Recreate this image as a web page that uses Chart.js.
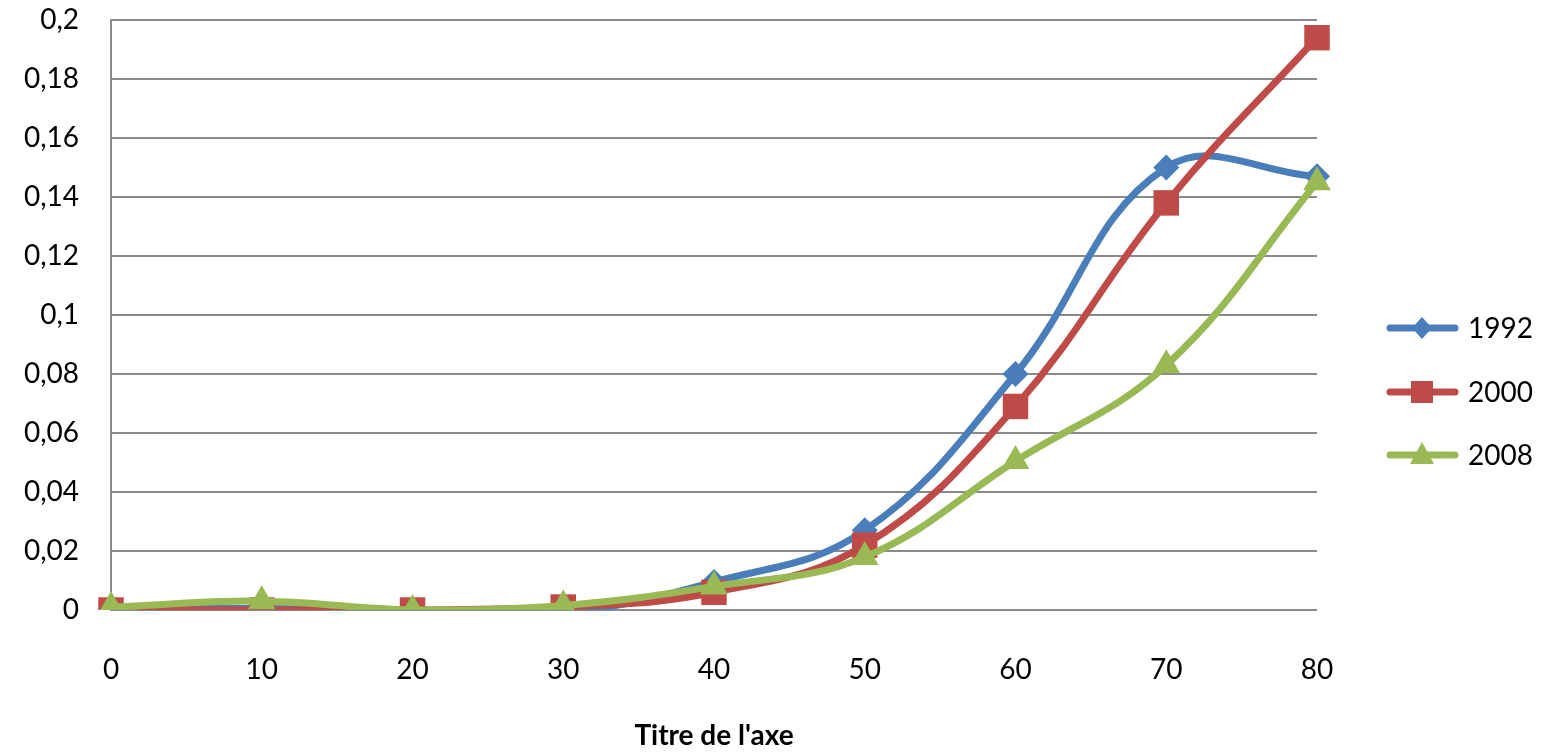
<!DOCTYPE html>
<html>
<head>
<meta charset="utf-8">
<script src="https://cdn.jsdelivr.net/npm/chart.js@4.4.1/dist/chart.umd.min.js"></script>
<style>
  html, body { margin: 0; padding: 0; background: #fff; }
  #wrap { width: 1552px; height: 753px; }
</style>
</head>
<body>
<div id="wrap"><canvas id="canvas"></canvas></div>
<script>
// x categories and series
var ages = ['0', '10', '20', '30', '40', '50', '60', '70', '80'];
var s1992 = [0.0005, 0.0005, 0, -0.0008, 0.0095, 0.027, 0.080, 0.150, 0.147];
var s2000 = [0, 0, 0, 0.001, 0.006, 0.022, 0.069, 0.138, 0.194];
var s2008 = [0.001, 0.003, 0, 0.0015, 0.008, 0.018, 0.0505, 0.083, 0.145];
var seriesNames = ['1992', '2000', '2008'];
var yMin = 0, yMax = 0.2, yStep = 0.02;

var FONT = 'Lato, "Open Sans", sans-serif';
var gridGray = '#8a8a8a';

// legend drawn as Excel does it: a line with the marker on it
var excelLegend = {
  id: 'excelLegend',
  afterDraw: function(chart) {
    var ctx = chart.ctx;
    var rows = [328, 392, 455];
    chart.data.datasets.forEach(function(ds, i) {
      var y = rows[i];
      ctx.save();
      ctx.strokeStyle = ds.borderColor;
      ctx.lineWidth = 7;
      ctx.lineCap = 'round';
      ctx.beginPath();
      ctx.moveTo(1390, y);
      ctx.lineTo(1455, y);
      ctx.stroke();
      ctx.fillStyle = ds.backgroundColor;
      var cx = 1422;
      ctx.beginPath();
      if (ds.pointStyle === 'rectRot') {
        ctx.moveTo(cx, y - 11); ctx.lineTo(cx + 10, y); ctx.lineTo(cx, y + 11); ctx.lineTo(cx - 10, y);
      } else if (ds.pointStyle === 'rect') {
        ctx.rect(cx - 11, y - 11, 22, 22);
      } else {
        ctx.moveTo(cx, y - 13); ctx.lineTo(cx + 12, y + 9); ctx.lineTo(cx - 12, y + 9);
      }
      ctx.closePath();
      ctx.fill();
      ctx.fillStyle = '#000';
      ctx.font = '28px ' + FONT;
      ctx.textBaseline = 'middle';
      ctx.textAlign = 'left';
      ctx.fillText(ds.label, 1468, y + 1);
      ctx.restore();
    });
  }
};

window.onload = function() {
  var ctx = document.getElementById('canvas').getContext('2d');
  window.myLine = new Chart(ctx, {
    type: 'line',
    data: {
      labels: ages,
      datasets: [{
        label: seriesNames[0],
        data: s1992,
        borderColor: '#4a7ebb',
        backgroundColor: '#4a7ebb',
        borderWidth: 7,
        pointStyle: 'rectRot',
        pointRadius: 13,
        pointBorderWidth: 0,
        tension: 0.4,
        order: 3
      }, {
        label: seriesNames[1],
        data: s2000,
        borderColor: '#be4b48',
        backgroundColor: '#be4b48',
        borderWidth: 7,
        pointStyle: 'rect',
        pointRadius: 18,
        pointBorderWidth: 0,
        tension: 0.4,
        order: 2
      }, {
        label: seriesNames[2],
        data: s2008,
        borderColor: '#98b954',
        backgroundColor: '#98b954',
        borderWidth: 7,
        pointStyle: 'triangle',
        pointRadius: 16,
        pointBorderWidth: 0,
        tension: 0.4,
        order: 1
      }]
    },
    options: {
      responsive: true,
      maintainAspectRatio: false,
      animation: false,
      layout: { autoPadding: false, padding: { left: 0, right: 235, top: 20, bottom: 0 } },
      plugins: {
        legend: { display: false },
        tooltip: { enabled: false }
      },
      scales: {
        x: {
          offset: false,
          grid: { display: false, drawTicks: false },
          border: { display: false },
          ticks: {
            color: '#000',
            font: { family: FONT, size: 28 },
            padding: 43,
            maxRotation: 0
          },
          title: {
            display: true,
            text: "Titre de l'axe",
            color: '#000',
            font: { family: FONT, size: 28, weight: 'bold' },
            padding: { top: 0, bottom: 0 }
          },
          afterFit: function(scale) { scale.height = 143; }
        },
        y: {
          min: yMin,
          max: yMax,
          grid: { color: gridGray, lineWidth: 2, drawTicks: true, tickLength: 30, tickColor: 'rgba(0,0,0,0)' },
          border: { display: true, color: gridGray, width: 2 },
          ticks: {
            stepSize: yStep,
            color: '#000',
            font: { family: FONT, size: 28, lineHeight: 1 },
            padding: 2,
            callback: function(v) { return String(Number(v.toFixed(2))).replace('.', ','); }
          },
          afterFit: function(scale) { scale.width = 111; }
        }
      }
    },
    plugins: [excelLegend]
  });
};
</script>
</body>
</html>
